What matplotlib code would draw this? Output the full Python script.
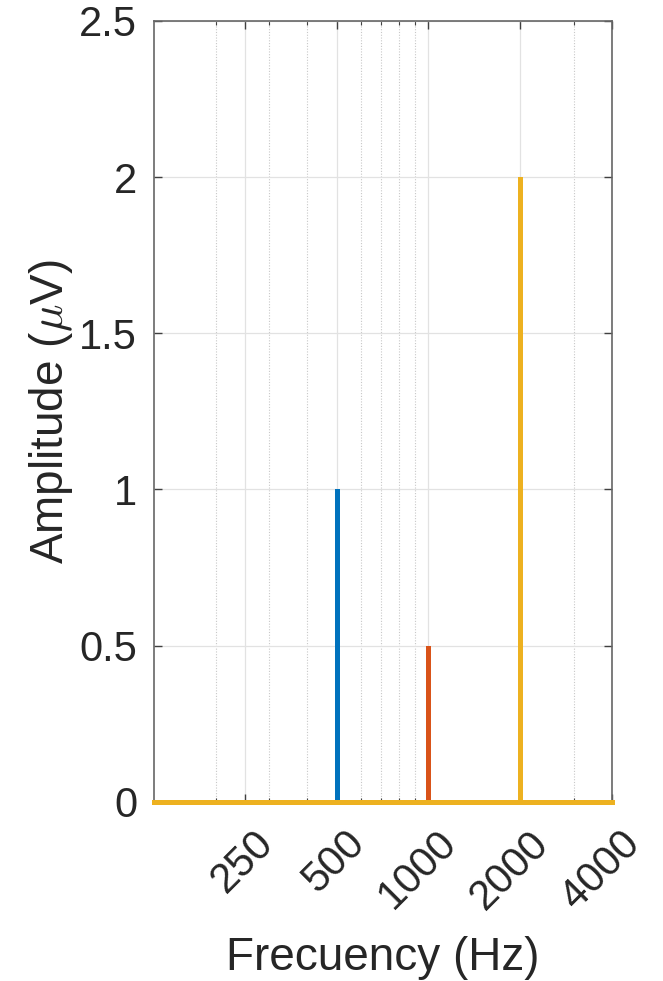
import matplotlib
matplotlib.use("Agg")
import matplotlib.pyplot as plt
from matplotlib.ticker import FixedLocator, NullFormatter
from matplotlib.transforms import ScaledTranslation

plt.rcParams['font.family'] = ['Liberation Sans', 'DejaVu Sans']
plt.rcParams['mathtext.fontset'] = 'cm'

# tone frequencies (Hz) and their amplitudes (uV)
freqs = [500, 1000, 2000]
amps = [1.0, 0.5, 2.0]
colors = ['#0072BD', '#D95319', '#EDB120']

f_min, f_max = 125, 4000
xticks = [250, 500, 1000, 2000, 4000]
xminor = [200, 300, 400, 600, 700, 800, 900, 3000]
yticks = [0, 0.5, 1, 1.5, 2, 2.5]
ytick_labels = ['0', '0.5', '1', '1.5', '2', '2.5']

txt = '#262626'
fig = plt.figure(figsize=(6.63, 9.81), dpi=100)
ax = fig.add_axes([0.2318, 0.1828, 0.6908, 0.7958])

for f, a, c in zip(freqs, amps, colors):
    ax.plot([f_min, f, f, f, f_max], [0, 0, a, 0, 0], color=c, lw=3.6,
            solid_joinstyle='miter', zorder=3, clip_on=False)

ax.set_xscale('log')
ax.set_xlim(f_min, f_max)
ax.set_ylim(0, 2.5)

ax.xaxis.set_major_locator(FixedLocator(xticks))
ax.xaxis.set_minor_locator(FixedLocator(xminor))
ax.xaxis.set_minor_formatter(NullFormatter())
ax.set_xticks(xticks, [str(t) for t in xticks], rotation=45, ha='right',
              va='top', rotation_mode='anchor')
ax.set_yticks(yticks, ytick_labels)

ax.tick_params(which='both', direction='in', top=True, right=True,
               colors='#404040', labelcolor=txt, labelsize=30)
ax.tick_params(which='major', length=6, width=1.0)
ax.tick_params(which='minor', length=3, width=0.8)
ax.tick_params(axis='x', which='major', pad=14)
ax.tick_params(axis='y', which='major', pad=12)

# nudge the rotated frequency labels a little to the right
shift = ScaledTranslation(8 / 100, -2 / 100, fig.dpi_scale_trans)
for lbl in ax.get_xticklabels():
    lbl.set_transform(lbl.get_transform() + shift)

ax.grid(True, which='major', color='#e2e2e2', lw=0.9, ls='-', zorder=0)
ax.grid(True, which='minor', axis='x', color='#c8c8c8', lw=0.8, ls=(0, (1, 1.5)), zorder=0)
ax.set_axisbelow(True)

for s in ax.spines.values():
    s.set_color('#666666')
    s.set_linewidth(1.2)

ax.set_xlabel('Frecuency (Hz)', fontsize=33, color=txt, labelpad=14)
ax.set_ylabel(r'Amplitude ($\mu$V)', fontsize=33, color=txt, labelpad=3)

fig.savefig('out.png', dpi=100)
